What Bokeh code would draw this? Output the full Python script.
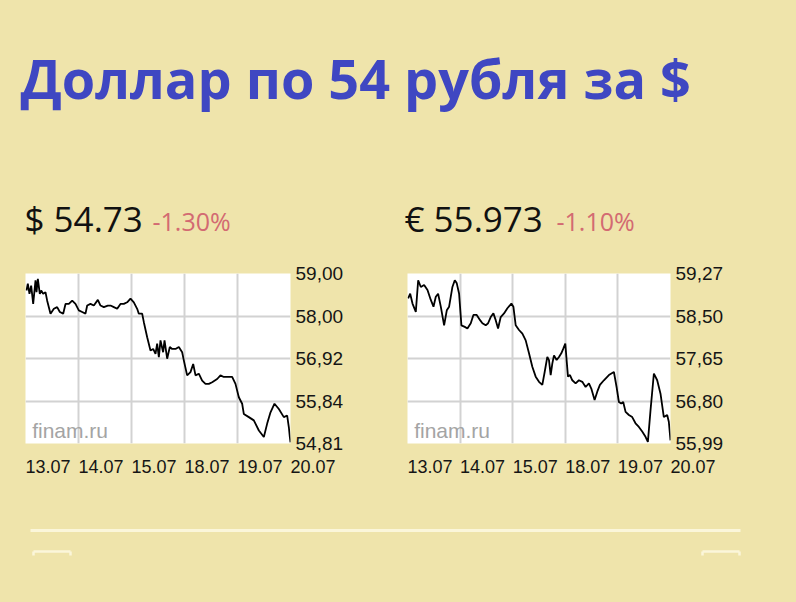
from bokeh.plotting import figure
from bokeh.layouts import column, row
from bokeh.models import Range1d, FixedTicker, Label
from bokeh.embed import file_html
from bokeh.resources import INLINE

BG = "#EFE4AB"

title_text = "Доллар по 54 рубля за $"
usd_price = "$ 54.73"
usd_change = "-1.30%"
eur_price = "€ 55.973"
eur_change = "-1.10%"

day_labels = ["13.07", "14.07", "15.07", "18.07", "19.07", "20.07"]
day_pos = [0, 1, 2, 3, 4, 5]

usd_ticks = [54.81, 55.8575, 56.905, 57.9525, 59.00]
usd_tick_labels = ["54,81", "55,84", "56,92", "58,00", "59,00"]
eur_ticks = [55.99, 56.81, 57.63, 58.45, 59.27]
eur_tick_labels = ["55,99", "56,80", "57,65", "58,50", "59,27"]

usd_t = [0.019, 0.044, 0.075, 0.107, 0.145, 0.189, 0.208, 0.233, 0.270, 0.296,
         0.333, 0.377, 0.409, 0.472, 0.535, 0.597, 0.648, 0.711, 0.755, 0.818,
         0.881, 0.943, 1.006, 1.069, 1.132, 1.164, 1.226, 1.289, 1.365, 1.415,
         1.478, 1.553, 1.604, 1.667, 1.730, 1.792, 1.855, 1.918, 1.981, 2.044,
         2.107, 2.138, 2.201, 2.233, 2.296, 2.358, 2.409, 2.453, 2.484, 2.516,
         2.547, 2.597, 2.623, 2.673, 2.723, 2.767, 2.830, 2.893, 2.956, 2.987,
         3.050, 3.113, 3.164, 3.208, 3.270, 3.333, 3.396, 3.459, 3.522, 3.616,
         3.679, 3.742, 3.805, 3.899, 3.962, 4.025, 4.088, 4.119, 4.214, 4.308,
         4.403, 4.497, 4.560, 4.623, 4.698, 4.780, 4.874, 4.937, 4.969, 4.987,
         5.000]
usd_v = [58.58, 58.75, 58.50, 58.70, 58.25, 58.83, 58.54, 58.87, 58.50, 58.58,
         58.50, 58.54, 58.33, 58.01, 58.13, 58.17, 58.05, 58.01, 58.25, 58.25,
         58.33, 58.25, 58.09, 58.05, 58.01, 58.21, 58.25, 58.21, 58.35, 58.21,
         58.17, 58.21, 58.21, 58.17, 58.13, 58.25, 58.25, 58.29, 58.38, 58.29,
         58.13, 58.01, 58.01, 57.80, 57.43, 57.10, 57.14, 57.02, 57.27, 56.94,
         57.35, 57.06, 57.35, 56.90, 57.19, 57.14, 57.14, 57.19, 57.06, 56.86,
         56.49, 56.57, 56.77, 56.49, 56.53, 56.36, 56.28, 56.28, 56.32, 56.40,
         56.49, 56.45, 56.45, 56.45, 56.28, 55.95, 55.79, 55.54, 55.46, 55.38,
         55.13, 54.97, 55.30, 55.58, 55.79, 55.66, 55.46, 55.50, 55.21, 54.97,
         54.84]

eur_t = [0.013, 0.051, 0.095, 0.158, 0.203, 0.253, 0.316, 0.380, 0.443, 0.494,
         0.538, 0.582, 0.633, 0.696, 0.747, 0.791, 0.854, 0.899, 0.937, 0.981,
         1.025, 1.089, 1.139, 1.203, 1.253, 1.316, 1.380, 1.424, 1.487, 1.532,
         1.582, 1.633, 1.677, 1.722, 1.772, 1.835, 1.899, 1.975, 2.013, 2.057,
         2.120, 2.184, 2.247, 2.310, 2.373, 2.437, 2.500, 2.563, 2.608, 2.658,
         2.690, 2.722, 2.753, 2.785, 2.835, 2.880, 2.924, 2.962, 3.000, 3.025,
         3.051, 3.089, 3.133, 3.196, 3.259, 3.323, 3.386, 3.449, 3.494, 3.557,
         3.608, 3.658, 3.734, 3.829, 3.924, 3.975, 4.019, 4.063, 4.101, 4.146,
         4.209, 4.272, 4.335, 4.399, 4.462, 4.525, 4.570, 4.620, 4.684, 4.747,
         4.810, 4.873, 4.937, 4.968, 5.000]
eur_v = [58.79, 58.88, 58.69, 58.53, 59.14, 59.01, 59.05, 58.95, 58.76, 58.63,
         58.82, 58.88, 58.63, 58.27, 58.56, 58.63, 59.01, 59.14, 59.08, 58.88,
         58.27, 58.24, 58.21, 58.31, 58.47, 58.47, 58.37, 58.31, 58.27, 58.31,
         58.43, 58.50, 58.37, 58.21, 58.43, 58.50, 58.60, 58.69, 58.63, 58.27,
         58.18, 58.11, 57.98, 57.73, 57.47, 57.28, 57.18, 57.12, 57.37, 57.66,
         57.60, 57.31, 57.53, 57.69, 57.60, 57.66, 57.73, 57.82, 57.92, 57.60,
         57.28, 57.31, 57.21, 57.15, 57.21, 57.18, 57.08, 57.15, 57.05, 56.83,
         56.99, 57.12, 57.21, 57.31, 57.37, 57.08, 56.79, 56.76, 56.79, 56.60,
         56.54, 56.50, 56.38, 56.31, 56.22, 56.12, 56.02, 56.63, 57.34, 57.21,
         56.95, 56.50, 56.54, 56.41, 56.05]

NB = "\u00a0"  # padding so that each centred date label starts at its grid line


def plain(width, height):
    p = figure(width=width, height=height, output_backend="svg", toolbar_location=None,
               x_range=Range1d(0, width), y_range=Range1d(height, 0),
               x_axis_type=None, y_axis_type=None, min_border=0)
    p.background_fill_color = BG
    p.border_fill_color = BG
    p.outline_line_color = None
    p.grid.visible = False
    return p


def chart(t, v, ticks, tick_labels, width, left, frame_w, first_pad, mark_y):
    p = figure(width=width, height=227, output_backend="svg", toolbar_location=None,
               x_range=Range1d(0, 5), y_range=Range1d(ticks[0], ticks[-1]),
               y_axis_location="right",
               min_border_left=left, min_border_right=width - left - frame_w,
               min_border_top=10, min_border_bottom=47)
    p.background_fill_color = "white"
    p.border_fill_color = BG
    p.outline_line_color = None
    pads = [first_pad] + [9] * (len(day_pos) - 1)
    p.xaxis.ticker = FixedTicker(ticks=day_pos)
    p.xaxis.major_label_overrides = {d: NB * n + s for d, s, n in zip(day_pos, day_labels, pads)}
    p.yaxis.ticker = FixedTicker(ticks=ticks)
    p.yaxis.major_label_overrides = dict(zip(ticks, tick_labels))
    p.xgrid.ticker = FixedTicker(ticks=day_pos)
    p.ygrid.ticker = FixedTicker(ticks=ticks)
    p.grid.grid_line_color = "#d2d2d2"
    p.grid.grid_line_width = 2
    for ax in (p.xaxis, p.yaxis):
        ax.axis_line_color = None
        ax.major_tick_line_color = None
        ax.minor_tick_line_color = None
        ax.major_tick_out = 0
        ax.major_tick_in = 0
        ax.major_label_text_font = "Liberation Sans"
        ax.major_label_text_color = "#151515"
    p.xaxis.major_label_text_font_size = "18px"
    p.yaxis.major_label_text_font_size = "19px"
    p.xaxis.major_label_standoff = 13
    p.yaxis.major_label_standoff = 5
    p.line(t, v, line_color="black", line_width=1.8)
    p.add_layout(Label(x=0.126, y=mark_y, text="finam.ru", text_color="#a4a4a4",
                       text_font="Liberation Sans", text_font_size="21px",
                       text_baseline="alphabetic"))
    return p


head = plain(796, 263)
head.add_layout(Label(x=20, y=77, text=title_text, text_font="Open Sans",
                      text_font_style="bold", text_font_size="54px",
                      text_color="#3F47C2", text_baseline="alphabetic"))
head.add_layout(Label(x=24, y=218, text=usd_price, text_font="Open Sans",
                      text_font_size="35px", text_color="#111111",
                      text_baseline="alphabetic"))
head.add_layout(Label(x=152, y=220.5, text=usd_change, text_font="Open Sans",
                      text_font_size="25px", text_color="#D36A72",
                      text_baseline="alphabetic"))
head.add_layout(Label(x=404, y=218, text=eur_price, text_font="Open Sans",
                      text_font_size="35px", text_color="#111111",
                      text_baseline="alphabetic"))
head.add_layout(Label(x=556, y=220.5, text=eur_change, text_font="Open Sans",
                      text_font_size="25px", text_color="#D36A72",
                      text_baseline="alphabetic"))

c1 = chart(usd_t, usd_v, usd_ticks, usd_tick_labels, 360, 25, 265, 5, 55.13)
c2 = chart(eur_t, eur_v, eur_ticks, eur_tick_labels, 436, 47, 263, 9, 56.24)

foot = plain(796, 110)
foot.segment(x0=[30], y0=[40], x1=[740], y1=[40], line_color="#FBF6DA", line_width=3)
foot.segment(x0=[33, 702], y0=[61, 61], x1=[70, 739], y1=[61, 61],
             line_color="#FBF6DA", line_width=2.5)
foot.segment(x0=[33, 70, 702, 739], y0=[61, 61, 61, 61],
             x1=[33, 70, 702, 739], y1=[65, 65, 65, 65],
             line_color="#FBF6DA", line_width=2.5)

layout = column(head, row(c1, c2), foot)

html = file_html(layout, INLINE)
html = html.replace("</head>", "<style>html,body{background:%s;}</style></head>" % BG)
open("out.html", "w").write(html)
